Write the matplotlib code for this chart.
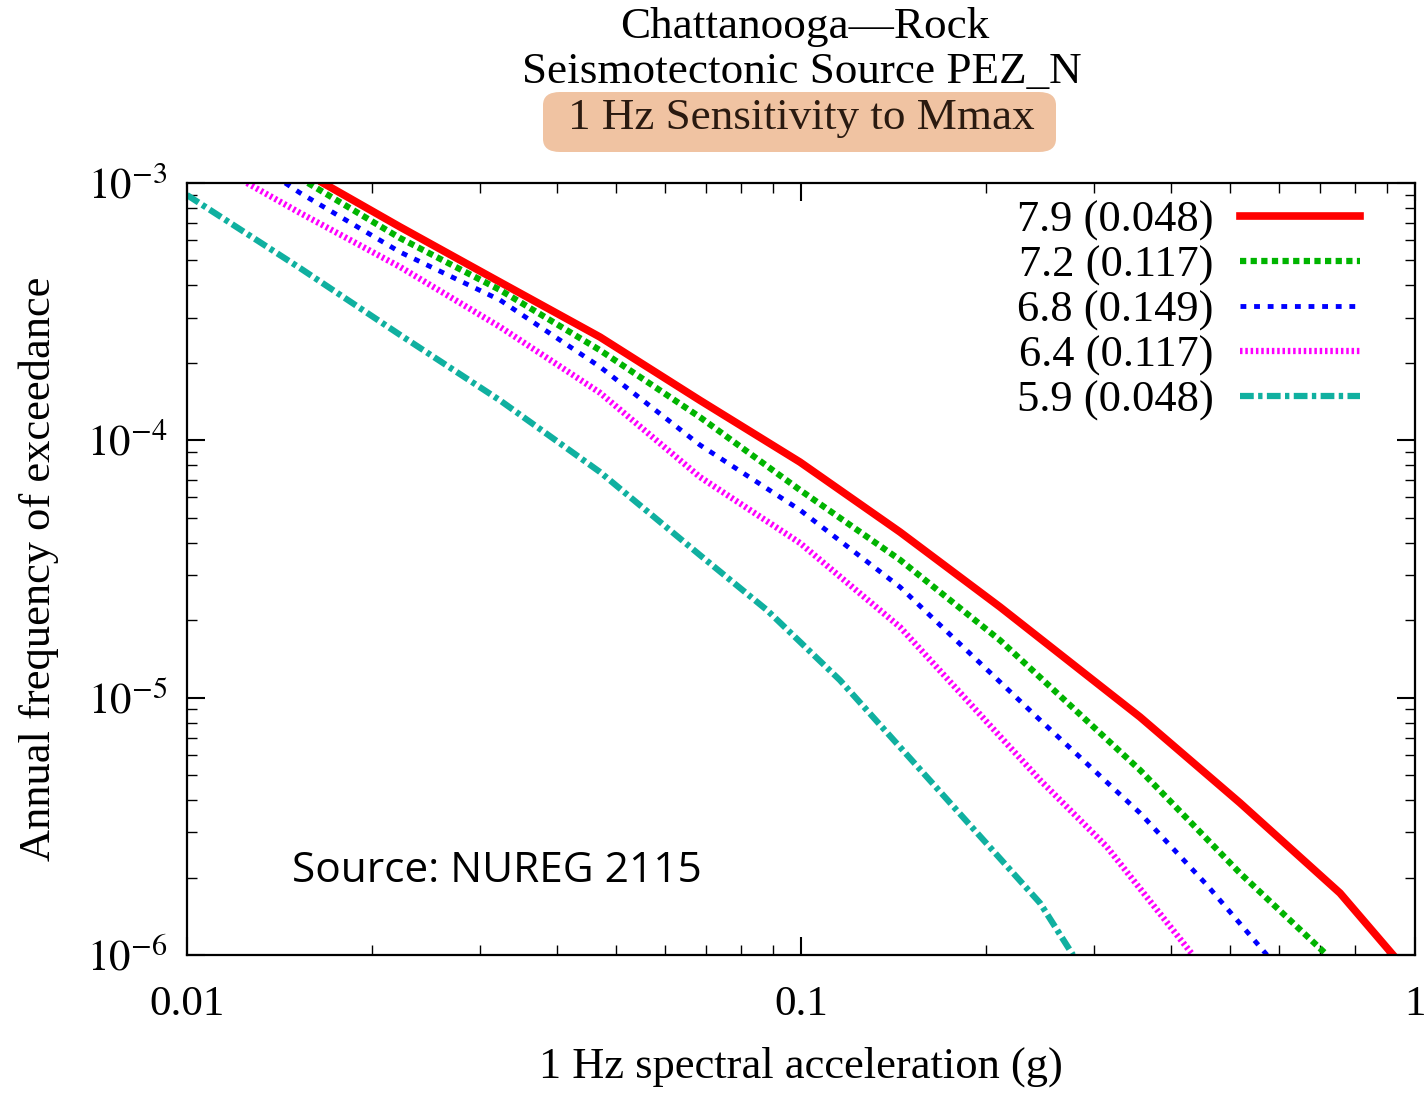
import matplotlib
matplotlib.use('Agg')
import matplotlib.pyplot as plt
from matplotlib.ticker import LogLocator, NullFormatter, FixedLocator, FixedFormatter
from matplotlib.patches import FancyBboxPatch

plt.rcParams['font.family'] = ['Liberation Serif', 'DejaVu Serif']
plt.rcParams['mathtext.fontset'] = 'stix'

# ── Hazard curves (g, annual frequency of exceedance) ──
sa_79 = [0.01665, 0.02223, 0.03234, 0.04706, 0.06847, 0.09963, 0.1450, 0.2110,
         0.2990, 0.3566, 0.5188, 0.7549, 0.921]
afe_79 = [1.0e-3, 6.75e-4, 4.12e-4, 2.52e-4, 1.43e-4, 8.23e-5, 4.40e-5, 2.25e-5,
          1.17e-5, 8.41e-6, 3.90e-6, 1.74e-6, 1.0e-6]

sa_72 = [0.01574, 0.02223, 0.03234, 0.04706, 0.06847, 0.09963, 0.1450, 0.2110,
         0.2479, 0.3566, 0.5188, 0.719]
afe_72 = [1.0e-3, 6.11e-4, 3.84e-4, 2.24e-4, 1.23e-4, 6.41e-5, 3.43e-5, 1.67e-5,
          1.17e-5, 5.23e-6, 2.08e-6, 1.0e-6]

sa_68 = [0.01445, 0.01528, 0.02223, 0.03234, 0.04706, 0.06847, 0.09963, 0.1450,
         0.2452, 0.3566, 0.4583, 0.574]
afe_68 = [1.0e-3, 9.15e-4, 5.39e-4, 3.51e-4, 1.93e-4, 9.59e-5, 5.36e-5, 2.69e-5,
          8.18e-6, 3.56e-6, 1.87e-6, 1.0e-6]

sa_64 = [0.01252, 0.01528, 0.02223, 0.03234, 0.04706, 0.06847, 0.09963, 0.1450,
         0.2452, 0.3150, 0.4347]
afe_64 = [1.0e-3, 7.65e-4, 4.72e-4, 2.76e-4, 1.53e-4, 7.20e-5, 3.99e-5, 1.88e-5,
          4.78e-6, 2.63e-6, 1.0e-6]

sa_59 = [0.01, 0.01528, 0.02223, 0.03234, 0.04706, 0.06847, 0.0880, 0.1157,
         0.2452, 0.2773]
afe_59 = [8.98e-4, 4.67e-4, 2.57e-4, 1.43e-4, 7.53e-5, 3.58e-5, 2.19e-5, 1.17e-5,
          1.59e-6, 1.0e-6]

labels = ['7.9 (0.048)', '7.2 (0.117)', '6.8 (0.149)', '6.4 (0.117)', '5.9 (0.048)']

RED, GREEN, BLUE, MAG, CYAN = '#ff0000', '#00b400', '#0000ff', '#ff00ff', '#10b0a0'

fig = plt.figure(figsize=(14.28, 10.95), dpi=100)
ax = fig.add_axes([187 / 1428, 1 - 955 / 1095, (1415 - 187) / 1428, (955 - 183) / 1095])

ax.plot(sa_79, afe_79, color=RED, lw=5.5, ls='-', label=labels[0])
ax.plot(sa_72, afe_72, color=GREEN, lw=4.5, dashes=(1.0, 0.7), label=labels[1])
ax.plot(sa_68, afe_68, color=BLUE, lw=3.5, dashes=(1.2, 1.6), label=labels[2])
ax.plot(sa_64, afe_64, color=MAG, lw=4.5, dashes=(0.4, 0.45), label=labels[3])
ax.plot(sa_59, afe_59, color=CYAN, lw=4.5, dashes=(2.2, 0.7, 0.7, 0.7), label=labels[4])

ax.set_xscale('log')
ax.set_yscale('log')
ax.set_xlim(0.01, 1)
ax.set_ylim(1e-6, 1e-3)

ax.xaxis.set_major_locator(FixedLocator([0.01, 0.1, 1]))
ax.xaxis.set_major_formatter(FixedFormatter(['0.01', '0.1', '1']))
ax.xaxis.set_minor_locator(LogLocator(base=10, subs=range(2, 10)))
ax.xaxis.set_minor_formatter(NullFormatter())
ax.yaxis.set_major_locator(FixedLocator([1e-6, 1e-5, 1e-4, 1e-3]))
ax.yaxis.set_major_formatter(FixedFormatter([r'$10^{-6}$', r'$10^{-5}$', r'$10^{-4}$', r'$10^{-3}$']))
ax.yaxis.set_minor_locator(LogLocator(base=10, subs=range(2, 10)))
ax.yaxis.set_minor_formatter(NullFormatter())

ax.tick_params(which='both', direction='in', top=True, right=True, labelsize=31)
ax.tick_params(which='major', length=13, width=1.5, pad=14)
ax.tick_params(axis='x', which='major', pad=22)
ax.tick_params(which='minor', length=7, width=1.0)
for s in ax.spines.values():
    s.set_linewidth(1.6)

ax.set_xlabel('1 Hz spectral acceleration (g)', fontsize=32, labelpad=16)
ax.set_ylabel('Annual frequency of exceedance', fontsize=32, labelpad=20)

leg = ax.legend(loc='upper right', frameon=False, markerfirst=False, fontsize=32,
                handlelength=2.7, handletextpad=0.6, labelspacing=0.1,
                borderaxespad=0.2, bbox_to_anchor=(0.977, 1.012))

# ── Titles ──
fig.text(805 / 1428, 1 - 27 / 1095, 'Chattanooga\u2014Rock', fontsize=32.5,
         ha='center', va='center')
fig.text(802 / 1428, 1 - 72 / 1095, 'Seismotectonic Source PEZ_N', fontsize=32.5,
         ha='center', va='center')
box = FancyBboxPatch((543 / 1428, 1 - 152 / 1095), (1056 - 543) / 1428, 60 / 1095,
                     boxstyle='round,pad=0,rounding_size=0.012', transform=fig.transFigure,
                     facecolor='#f0c3a2', edgecolor='none')
fig.patches.append(box)
fig.text(801 / 1428, 1 - 118 / 1095, '1 Hz Sensitivity to Mmax', fontsize=32.5,
         ha='center', va='center', color='#2a1a10')

fig.text(292 / 1428, 1 - 871 / 1095, 'Source: NUREG 2115', fontsize=30.5,
         family=['Open Sans', 'DejaVu Sans'], ha='left', va='center')

fig.savefig('out.png', dpi=100, facecolor='white')
